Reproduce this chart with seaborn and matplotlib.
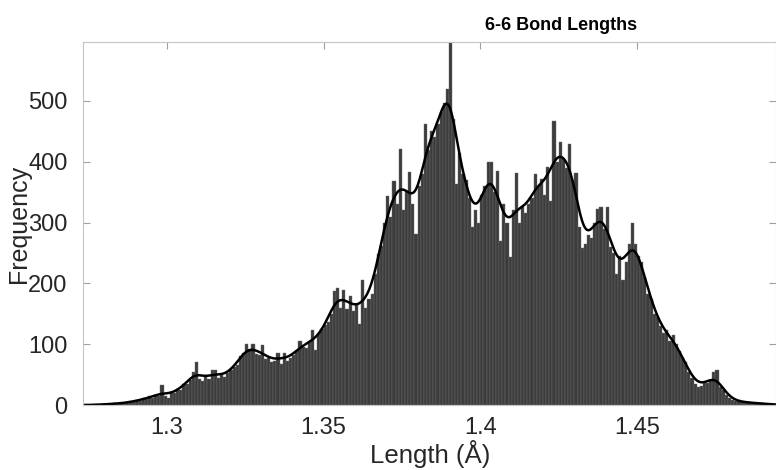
import numpy as np
import pandas as pd
import matplotlib
matplotlib.use("Agg")
import matplotlib.pyplot as plt
import seaborn as sns

# ---- data ----
bin_start = 1.275
bin_width = 0.001
counts = [
    0, 0, 1, 0, 1, 1, 2, 1, 3, 2,
    3, 4, 3, 6, 5, 8, 7, 11, 10, 14,
    12, 16, 14, 33, 15, 12, 21, 20, 27, 25,
    34, 35, 41, 54, 71, 43, 40, 46, 42, 57,
    57, 44, 50, 46, 53, 58, 63, 66, 80, 86,
    101, 92, 101, 84, 82, 99, 76, 78, 70, 72,
    85, 68, 85, 72, 77, 83, 88, 106, 96, 93,
    104, 123, 90, 117, 125, 132, 136, 150, 188, 192,
    160, 189, 158, 180, 155, 165, 134, 205, 160, 175,
    182, 215, 249, 262, 300, 344, 310, 369, 330, 421,
    320, 350, 383, 330, 281, 360, 380, 462, 420, 450,
    440, 462, 482, 497, 520, 610, 470, 363, 415, 380,
    370, 340, 292, 320, 300, 345, 360, 399, 400, 350,
    385, 270, 330, 300, 243, 320, 382, 300, 325, 315,
    330, 340, 380, 360, 372, 345, 391, 336, 467, 400,
    432, 405, 390, 429, 370, 382, 292, 259, 265, 280,
    275, 300, 322, 325, 290, 325, 260, 250, 216, 245,
    205, 235, 265, 300, 265, 245, 235, 210, 183, 175,
    150, 145, 130, 118, 123, 105, 115, 100, 88, 78,
    70, 55, 44, 35, 30, 32, 37, 36, 40, 55,
    57, 30, 25, 16, 12, 8, 7, 6, 5, 4,
    5, 3, 4, 2, 3, 2, 2, 1, 1, 1,
]
x_ticks = [1.3, 1.35, 1.4, 1.45]
x_tick_labels = ["1.3", "1.35", "1.4", "1.45"]
y_ticks = [0, 100, 200, 300, 400, 500]
title = "6-6 Bond Lengths"
xlabel = "Length (Å)"
ylabel = "Frequency"

n = len(counts)
centers = bin_start + bin_width * (np.arange(n) + 0.5)
df = pd.DataFrame({"length": centers, "count": counts})

sns.set_theme(style="white")
plt.rcParams["font.family"] = ["Liberation Sans", "DejaVu Sans"]

fig = plt.figure(figsize=(7.76, 4.70), dpi=100)
L, R, T, B = 83, 776, 42, 405
ax = fig.add_axes([L / 776, (470 - B) / 470, (R - L) / 776, (B - T) / 470])

sns.histplot(
    data=df, x="length", weights="count",
    binwidth=bin_width, binrange=(bin_start, bin_start + n * bin_width),
    kde=True, kde_kws={"bw_adjust": 0.155, "gridsize": 800, "cut": 3},
    color="#3c3c3c", edgecolor="#6e6e6e", linewidth=0.3, alpha=1.0,
    line_kws={"color": "black", "linewidth": 1.8}, ax=ax,
)
for line in ax.lines:
    line.set_color("black")

ax.set_xlim(1.2733, 1.4943)
ax.set_ylim(0, 597)
ax.set_xticks(x_ticks)
ax.set_xticklabels(x_tick_labels)
ax.set_yticks(y_ticks)

ax.tick_params(axis="both", direction="in", length=5, width=0.8, color="#a0a0a0",
               labelsize=17, labelcolor="#262626", top=True, right=True,
               bottom=True, left=True)
ax.tick_params(axis="y", pad=11)
ax.tick_params(axis="x", pad=9)
for s in ax.spines.values():
    s.set_visible(True)
    s.set_color("#c4c4c4")
    s.set_linewidth(0.8)

ax.set_xlabel(xlabel, fontsize=18.5, color="#262626")
ax.set_ylabel(ylabel, fontsize=18, color="#262626")
ax.yaxis.set_label_coords((19 - L) / (R - L), 0.5)
ax.xaxis.set_label_coords((430 - L) / (R - L), -(454 - B) / (B - T))
ax.xaxis.label.set_va("center")
ax.yaxis.label.set_va("center")
ax.set_title(title, fontsize=13, fontweight="bold", color="black",
             x=(561 - L) / (R - L), pad=9)

fig.savefig("out.png", dpi=100)
